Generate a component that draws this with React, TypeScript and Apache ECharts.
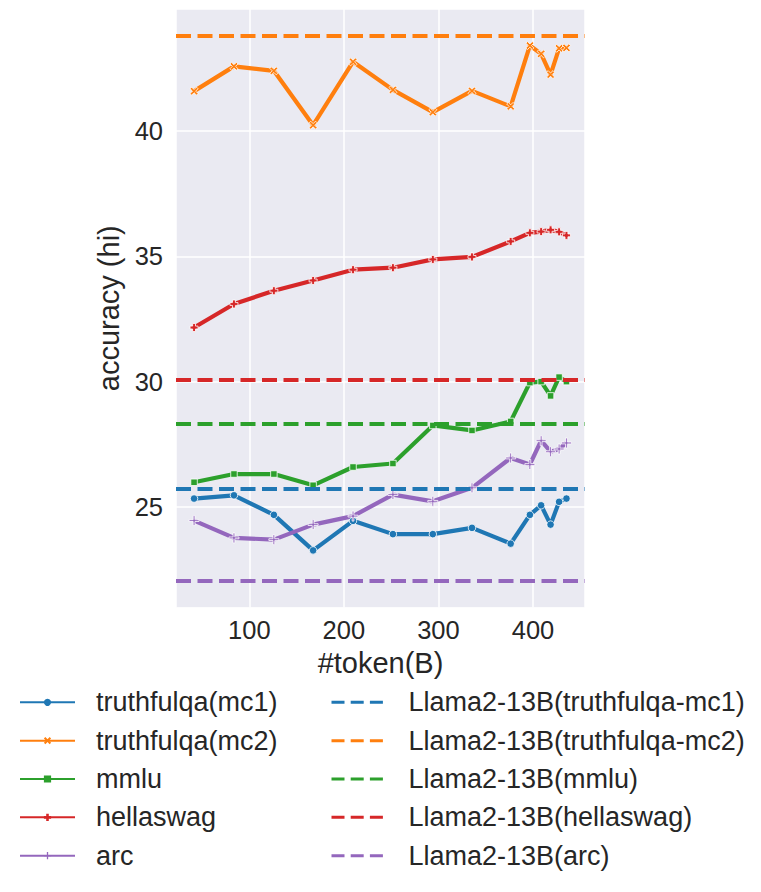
import React, { useEffect, useRef } from "react";
import * as echarts from "echarts";

// x values: training tokens (B)
const tokens = [41.6, 83.8, 126.0, 167.5, 209.7, 251.9, 294.1, 335.5, 376.4, 396.7, 408.6, 418.6, 427.6, 435.4];

// accuracy series
const truthfulqaMc1 = [25.33, 25.46, 24.68, 23.26, 24.44, 23.91, 23.91, 24.16, 23.53, 24.68, 25.06, 24.29, 25.2, 25.33];
const truthfulqaMc2 = [41.6, 42.59, 42.41, 40.24, 42.77, 41.65, 40.76, 41.61, 40.99, 43.42, 43.09, 42.26, 43.31, 43.33];
const mmlu = [25.98, 26.31, 26.31, 25.86, 26.59, 26.73, 28.25, 28.05, 28.41, 29.96, 30.0, 29.43, 30.18, 30.0];
const hellaswag = [32.16, 33.1, 33.63, 34.04, 34.47, 34.55, 34.88, 34.98, 35.6, 35.94, 35.99, 36.06, 35.98, 35.84];
const arc = [24.45, 23.76, 23.69, 24.29, 24.63, 25.49, 25.22, 25.76, 26.95, 26.69, 27.64, 27.2, 27.31, 27.55];

const seriesNames = ["truthfulqa(mc1)", "truthfulqa(mc2)", "mmlu", "hellaswag", "arc"];
const seriesValues = [truthfulqaMc1, truthfulqaMc2, mmlu, hellaswag, arc];

// Llama2-13B reference values (horizontal dashed lines)
const baselineNames = [
  "Llama2-13B(truthfulqa-mc1)",
  "Llama2-13B(truthfulqa-mc2)",
  "Llama2-13B(mmlu)",
  "Llama2-13B(hellaswag)",
  "Llama2-13B(arc)",
];
const baselineValues = [25.73, 43.8, 28.31, 30.07, 22.06];

const colors = ["#1f77b4", "#ff7f0e", "#2ca02c", "#d62728", "#9467bd"];
const symbols = [
  "circle",
  "path://M2,0L5,3L8,0L10,2L7,5L10,8L8,10L5,7L2,10L0,8L3,5L0,2Z",
  "rect",
  "path://M3.2,0H6.8V3.2H10V6.8H6.8V10H3.2V6.8H0V3.2H3.2Z",
  "path://M4.1,0H5.9V4.1H10V5.9H5.9V10H4.1V5.9H0V4.1H4.1Z",
];
const symbolSizes = [7.5, 8, 6.5, 8, 10];

const TEXT = "#262626";
const FONT = "Liberation Sans, Arial, sans-serif";

export default function App() {
  const ref = useRef<HTMLDivElement>(null);
  useEffect(() => {
    if (!ref.current) return;
    const chart = echarts.init(ref.current, null, { renderer: "svg" });

    const lineSeries = seriesNames.map((name, k) => ({
      name,
      type: "line",
      data: tokens.map((x, i) => [x, seriesValues[k][i]]),
      symbol: symbols[k],
      symbolSize: symbolSizes[k],
      showSymbol: true,
      lineStyle: { color: colors[k], width: 4.2 },
      itemStyle: { color: colors[k], borderColor: "#ffffff", borderWidth: 0.8 },
      z: 2,
      silent: true,
    }));

    const dashedSeries = baselineNames.map((name, k) => ({
      name,
      type: "line",
      data: [],
      symbol: "circle",
      lineStyle: { color: colors[k], width: 4, type: [15, 6.5] },
      itemStyle: { color: colors[k] },
      z: 3,
      markLine: {
        silent: true,
        symbol: ["none", "none"],
        label: { show: false },
        lineStyle: { color: colors[k], width: 4, type: [15, 6.5] },
        data: [{ yAxis: baselineValues[k] }],
      },
    }));

    chart.setOption({
      animation: false,
      textStyle: { fontFamily: FONT },
      grid: {
        left: 176,
        top: 9,
        width: 409,
        height: 598.5,
        show: true,
        backgroundColor: "#eaeaf2",
        borderWidth: 0,
        containLabel: false,
      },
      xAxis: {
        type: "value",
        min: 22.5,
        max: 455,
        splitNumber: 4,
        name: "#token(B)",
        nameLocation: "middle",
        nameGap: 41,
        nameTextStyle: { fontSize: 29, color: TEXT, fontFamily: FONT },
        axisLine: { show: false },
        axisTick: { show: false },
        axisLabel: {
          fontSize: 25.5,
          color: TEXT,
          margin: 9,
          showMinLabel: false,
          showMaxLabel: false,
          fontFamily: FONT,
        },
        splitLine: { show: true, lineStyle: { color: "#ffffff", width: 1.5 } },
      },
      yAxis: {
        type: "value",
        min: 20.98,
        max: 44.88,
        splitNumber: 5,
        name: "accuracy (hi)",
        nameLocation: "middle",
        nameRotate: 90,
        nameGap: 40,
        nameTextStyle: { fontSize: 29, color: TEXT, fontFamily: FONT },
        axisLine: { show: false },
        axisTick: { show: false },
        axisLabel: {
          fontSize: 25.5,
          color: TEXT,
          margin: 13,
          showMinLabel: false,
          showMaxLabel: false,
          fontFamily: FONT,
        },
        splitLine: { show: true, lineStyle: { color: "#ffffff", width: 1.5 } },
      },
      legend: [
        {
          orient: "vertical",
          left: 19,
          top: 688.3,
          padding: 0,
          itemWidth: 55,
          itemHeight: 9,
          itemGap: 10.35,
          selectedMode: false,
          data: seriesNames.map((name) => ({ name })),
          lineStyle: { width: 2 },
          itemStyle: { borderWidth: 0 },
          textStyle: {
            fontSize: 27,
            color: TEXT,
            fontFamily: FONT,
            lineHeight: 28,
            padding: [0, 0, 0, 16],
          },
        },
        {
          orient: "vertical",
          left: 330,
          top: 688.3,
          padding: 0,
          itemWidth: 55,
          itemHeight: 9,
          itemGap: 10.35,
          selectedMode: false,
          data: baselineNames.map((name) => ({
            name,
            itemStyle: { opacity: 0 },
            lineStyle: { width: 3, type: [13, 6.2] },
          })),
          textStyle: {
            fontSize: 27,
            color: TEXT,
            fontFamily: FONT,
            lineHeight: 28,
            padding: [0, 0, 0, 17],
          },
        },
      ],
      series: [...lineSeries, ...dashedSeries],
    });

    return () => chart.dispose();
  }, []);

  return (
    <div
      ref={ref}
      style={{ position: "absolute", left: 0, top: 0, width: 761, height: 892, background: "#ffffff" }}
    />
  );
}
